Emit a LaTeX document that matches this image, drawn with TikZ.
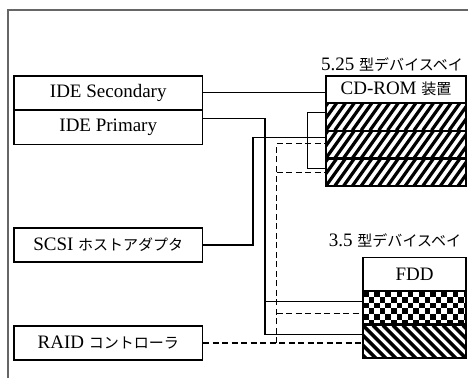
\documentclass[tikz,border=0pt]{standalone}
\usepackage{fontspec}
\setmainfont{Liberation Serif}
\newfontfamily\jpfont[Scale=0.79]{Noto Sans CJK JP}
\newcommand{\jp}[1]{{\jpfont #1}}
\usetikzlibrary{calc}

\begin{document}
\begin{tikzpicture}[x=1pt,y=1pt,font=\fontsize{19}{22}\selectfont,
  box/.style={draw,line width=1.3pt,minimum width=188.5pt,minimum height=33.5pt,inner sep=0pt},
  cell/.style={draw,line width=1.3pt,minimum width=140pt,minimum height=26.5pt,inner sep=0pt},
  fcell/.style={draw,line width=1.3pt,minimum width=103pt,minimum height=32.5pt,inner sep=0pt},
  hatchup/.style={path picture={\foreach \i in {-3,...,16}
      \draw[line width=3.2pt] ([xshift=\i*8.8pt]path picture bounding box.south west) -- ++(20pt,28pt);}},
  hatchdown/.style={path picture={\foreach \i in {-4,...,11}
      \draw[line width=3.6pt] ([xshift=\i*10pt]path picture bounding box.north west) -- ++(36pt,-36pt);}},
  checker/.style={path picture={\foreach \r in {0,...,5} \foreach \c in {0,...,9}
      \fill ([xshift={(2*\c+mod(\r,2))*5.6pt},yshift={-\r*5.6pt}]path picture bounding box.north west) rectangle ++(5.6pt,-5.6pt);}},
  wire/.style={line width=1.2pt},
  rwire/.style={line width=1.2pt,dash pattern=on 6pt off 3.5pt}]
\useasboundingbox (0,0) rectangle (468,378);
\draw[line width=1.8pt,black!60] (8,0) |- (468,368);
% host side
\node[box] (ideS) at (108.25,285.25) {IDE Secondary};
\node[box,anchor=north] (ideP) at (ideS.south) {IDE Primary};
\node[box,minimum height=34pt] (scsi) at (108.25,133) {SCSI \jp{ホストアダプタ}};
\node[box,minimum height=34pt] (raid) at (108.25,35) {RAID \jp{コントローラ}};
% 5.25 bay
\node (bay5) at (392,313.5) {5.25 \jp{型デバイスベイ}};
\node[cell] (cd) at (396,288.75) {CD-ROM \jp{装置}};
\node[cell,hatchup,anchor=north] (cdA) at (cd.south) {};
\node[cell,hatchup,anchor=north] (cdB) at (cdA.south) {};
\node[cell,hatchup,anchor=north] (cdC) at (cdB.south) {};
% 3.5 bay
\node (bay3) at (395,137) {3.5 \jp{型デバイスベイ}};
\node[fcell] (fdd) at (414.5,104) {FDD};
\node[fcell,checker,anchor=north] (fddA) at (fdd.south) {};
\node[fcell,hatchdown,anchor=north] (fddB) at (fddA.south) {};
% cables
\coordinate (busS) at (253,0); \coordinate (busP) at (265,0); \coordinate (busR) at (276.5,0);
\draw[wire] (ideS.east) -- (ideS.east -| cd.west);
\draw[wire] ($(ideP.east)+(0,9)$) -| ($(busP |- fddB.west)+(0,7.5)$) -- ($(fddB.west)+(0,7.5)$);
\draw[wire] ($(busP |- fddA.west)+(0,6.5)$) -- ($(fddA.west)+(0,6.5)$);
\draw[wire] (scsi.east) -| ($(busS |- cdB.west)+(0,7)$) -- ($(cdB.west)+(0,7)$);
\draw[wire] ($(cdA.west)+(0,4.75)$) -- ++(-18,0) |- ($(cdC.west)+(0,4.5)$);
\draw[rwire] (raid.east) -- (raid.east -| fddB.west);
\draw[rwire] (busR |- raid.east) |- ($(cdB.west)+(0,1)$);
\draw[rwire] (busR |- cdC.west) -- (cdC.west);
\draw[rwire] ($(busR |- fddA.west)+(0,-5.5)$) -- ($(fddA.west)+(0,-5.5)$);
\end{tikzpicture}
\end{document}
